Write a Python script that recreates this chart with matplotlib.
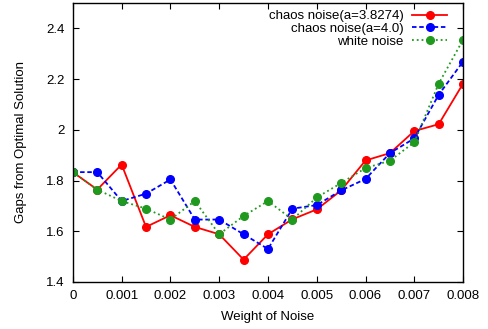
import matplotlib
matplotlib.use('Agg')
import matplotlib.pyplot as plt
from matplotlib.ticker import FuncFormatter

plt.rcParams['font.family'] = ['Liberation Sans', 'DejaVu Sans']
plt.rcParams['font.size'] = 9.5

# weight of noise
weights = [0, 0.0005, 0.001, 0.0015, 0.002, 0.0025, 0.003, 0.0035, 0.004,
           0.0045, 0.005, 0.0055, 0.006, 0.0065, 0.007, 0.0075, 0.008]

chaos_38274 = [1.833, 1.764, 1.863, 1.617, 1.663, 1.617, 1.588, 1.488, 1.588,
               1.647, 1.686, 1.761, 1.879, 1.908, 1.995, 2.022, 2.182]
chaos_40 = [1.833, 1.833, 1.719, 1.748, 1.804, 1.646, 1.646, 1.588, 1.530,
            1.689, 1.703, 1.761, 1.806, 1.908, 1.966, 2.138, 2.269]
white = [1.833, 1.764, 1.719, 1.689, 1.646, 1.719, 1.588, 1.660, 1.719,
         1.646, 1.733, 1.790, 1.849, 1.878, 1.951, 2.182, 2.355]

labels = ['chaos noise(a=3.8274)', 'chaos noise(a=4.0)', 'white noise']

fig = plt.figure(figsize=(4.89, 3.29), dpi=100)
ax = fig.add_axes([0.149, 0.143, 0.798, 0.848])

ax.plot(weights, chaos_38274, '-', color='#ff0000', lw=1.3, marker='o', ms=5.5, label=labels[0])
ax.plot(weights, chaos_40, '--', color='#0000ff', lw=1.3, marker='o', ms=5.5,
        dashes=(2.5, 1.5), label=labels[1])
ax.plot(weights, white, ':', color='#1f9a1f', lw=1.3, marker='o', ms=5.5, label=labels[2])

ax.set_xlim(0, 0.008)
ax.set_ylim(1.4, 2.5)
ax.set_xticks([i * 0.001 for i in range(9)])
ax.set_yticks([1.4, 1.6, 1.8, 2.0, 2.2, 2.4])
ax.xaxis.set_major_formatter(FuncFormatter(lambda v, p: '%g' % round(v, 4)))
ax.yaxis.set_major_formatter(FuncFormatter(lambda v, p: '%g' % round(v, 2)))
ax.tick_params(axis='x', direction='in', top=True, length=4, width=0.8, pad=6)
ax.tick_params(axis='y', direction='in', right=True, length=4, width=0.8, pad=6)
for s in ax.spines.values():
    s.set_linewidth(1.0)

ax.set_xlabel('Weight of Noise', labelpad=6)
ax.set_ylabel('Gaps from Optimal Solution')
ax.yaxis.set_label_coords(-0.118, 0.5)

ax.legend(loc='upper right', bbox_to_anchor=(0.959, 0.975), frameon=False,
          markerfirst=False, handlelength=2.65, labelspacing=0.05,
          borderaxespad=0, borderpad=0, handletextpad=0.65, fontsize=9.5)

fig.savefig('out.png', dpi=100)
